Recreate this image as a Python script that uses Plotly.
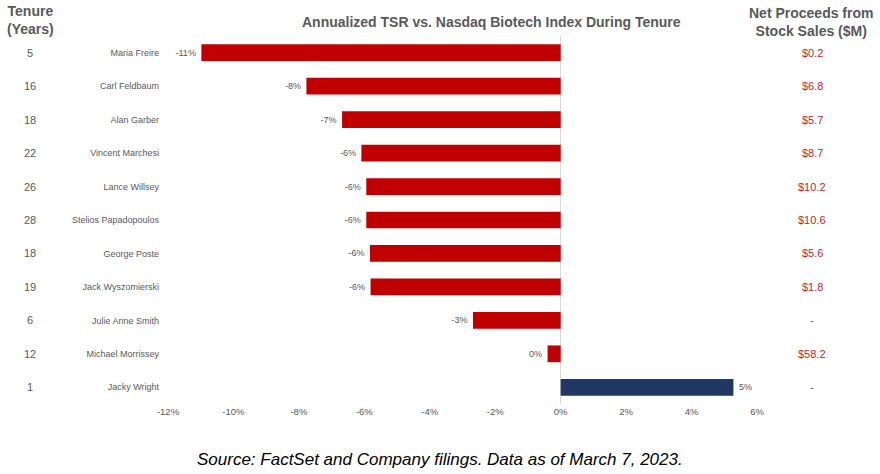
import plotly.graph_objects as go

names = ["Maria Freire", "Carl Feldbaum", "Alan Garber", "Vincent Marchesi", "Lance Willsey",
         "Stelios Papadopoulos", "George Poste", "Jack Wyszomierski", "Julie Anne Smith",
         "Michael Morrissey", "Jacky Wright"]
tsr = [-10.98, -7.77, -6.68, -6.09, -5.94, -5.94, -5.83, -5.81, -2.68, -0.40, 5.28]
tenure = ["5", "16", "18", "22", "26", "28", "18", "19", "6", "12", "1"]
proceeds = ["$0.2", "$6.8", "$5.7", "$8.7", "$10.2", "$10.6", "$5.6", "$1.8", "-", "$58.2", "-"]
x_ticks = [-12, -10, -8, -6, -4, -2, 0, 2, 4, 6]

W, H = 880, 474
L, R, T, B = 168, 757, 36, 404

def px(x):
    return (x - L) / (R - L)

def py(y):
    return (B - y) / (B - T)

FONT = "Arial, Liberation Sans, sans-serif"
GREY = "#595959"
RED_TXT = "#C0272D"
NB = "\u00a0"

labels = [(f"{round(v):.0f}%" + NB) if v < 0 else (NB + f"{round(v):.0f}%") for v in tsr]
colors = ["#C00000" if v < 0 else "#1F3864" for v in tsr]

fig = go.Figure(go.Bar(
    x=tsr, y=names, orientation="h",
    marker=dict(color=colors, line=dict(width=0)),
    width=0.5,
    text=labels, textposition="outside", cliponaxis=False,
    textfont=dict(family=FONT, size=9, color=GREY),
))

ann = []
for n, t, p in zip(names, tenure, proceeds):
    ann.append(dict(x=px(30), y=n, xref="paper", yref="y", text=t, showarrow=False,
                    xanchor="center", font=dict(family=FONT, size=11, color=GREY)))
    ann.append(dict(x=px(812), y=n, xref="paper", yref="y", text=p, showarrow=False,
                    xanchor="center",
                    font=dict(family=FONT, size=11, color=GREY if p == "-" else RED_TXT)))

ann.append(dict(x=px(30), y=py(20), xref="paper", yref="paper", showarrow=False,
                text="<b>Tenure<br>(Years)</b>", xanchor="center", yanchor="middle",
                font=dict(family=FONT, size=14, color=GREY)))
ann.append(dict(x=px(491), y=py(22), xref="paper", yref="paper", showarrow=False,
                text="<b>Annualized TSR vs. Nasdaq Biotech Index During Tenure</b>",
                xanchor="center", yanchor="middle",
                font=dict(family=FONT, size=14, color=GREY)))
ann.append(dict(x=px(811), y=py(22), xref="paper", yref="paper", showarrow=False,
                text="<b>Net Proceeds from<br>Stock Sales ($M)</b>", xanchor="center", yanchor="middle",
                font=dict(family=FONT, size=14, color=GREY)))
ann.append(dict(x=px(440), y=py(459), xref="paper", yref="paper", showarrow=False,
                text="<i>Source: FactSet and Company filings. Data as of March 7, 2023.</i>",
                xanchor="center", yanchor="middle",
                font=dict(family=FONT, size=17, color="#000000")))

fig.update_layout(
    width=W, height=H,
    margin=dict(l=L, r=W - R, t=T, b=H - B, pad=0),
    paper_bgcolor="white", plot_bgcolor="white",
    showlegend=False,
    annotations=ann,
    xaxis=dict(range=[-12, 6], tickvals=x_ticks, ticktext=[f"{v}%" for v in x_ticks],
               showgrid=False, zeroline=True, zerolinecolor="#D9D9D9", zerolinewidth=1,
               showline=False, ticks="", tickfont=dict(family=FONT, size=9.5, color=GREY),
               fixedrange=True),
    yaxis=dict(categoryorder="array", categoryarray=names, autorange="reversed",
               showgrid=False, zeroline=False, showline=False, ticks="",
               ticklabelstandoff=8,
               tickfont=dict(family=FONT, size=9, color=GREY), fixedrange=True),
)

fig.write_html("out.html", config={"displayModeBar": False},
               post_script="document.body.style.margin='0';document.body.style.overflow='hidden';")
